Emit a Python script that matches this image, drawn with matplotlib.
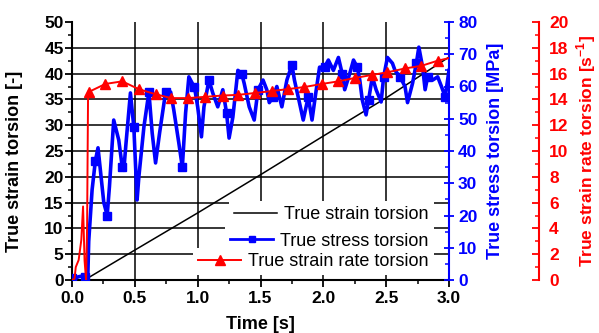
import matplotlib
matplotlib.use('Agg')
import matplotlib.pyplot as plt
from matplotlib.lines import Line2D
from matplotlib.ticker import MultipleLocator

plt.rcParams['font.family'] = ['Liberation Sans', 'DejaVu Sans']

# ---------------- data ----------------
t_strain = [0.1, 0.5, 1.0, 1.5, 2.0, 2.5, 3.0]
strain = [0.0, 5.8, 13.0, 20.4, 27.9, 35.3, 43.2]

t_stress = [0.00, 0.02, 0.05, 0.08, 0.10, 0.125, 0.133, 0.16, 0.186, 0.207, 0.226, 0.253,
            0.28, 0.298, 0.332, 0.372, 0.40, 0.412, 0.43, 0.465, 0.492, 0.518, 0.532, 0.572,
            0.612, 0.638, 0.665, 0.697, 0.745, 0.785, 0.81, 0.85, 0.878, 0.904, 0.93, 0.957,
            0.974, 1.0, 1.03, 1.05, 1.09, 1.12, 1.16, 1.2, 1.23, 1.25, 1.28, 1.32, 1.35, 1.37,
            1.41, 1.45, 1.48, 1.52, 1.55, 1.57, 1.6, 1.63, 1.67, 1.71, 1.75, 1.77, 1.81, 1.84,
            1.88, 1.91, 1.94, 1.97, 2.01, 2.04, 2.08, 2.12, 2.15, 2.17, 2.21, 2.24, 2.27, 2.29,
            2.31, 2.34, 2.36, 2.39, 2.42, 2.46, 2.48, 2.51, 2.55, 2.57, 2.61, 2.65, 2.67, 2.71,
            2.74, 2.76, 2.79, 2.81, 2.83, 2.87, 2.91, 2.94, 2.97, 3.0]
stress = [0.5, 0.3, 1.0, 1.2, 0.8, 0.0, 12, 28, 37, 41, 34, 24,
          20, 29, 49.6, 43.4, 35, 34, 42.5, 58, 47.4, 24.8, 32, 47.4,
          58.3, 45.6, 36.3, 45.6, 58.3, 58.3, 52.7, 42.5, 35, 51.8, 63, 61,
          60, 53.7, 44.4, 53.7, 62, 58, 53.7, 59, 51.8, 44, 50.5, 65, 64, 61,
          53.7, 49.6, 59, 62, 59, 55, 56.8, 60, 53.7, 62, 66.7, 62, 55, 49.6,
          56.8, 49.6, 58, 66, 66, 68.2, 65, 69, 64, 59, 64, 68.2, 66, 62,
          55.8, 51.2, 55.8, 63, 59, 55.2, 63, 69, 67.2, 65, 63, 60, 55, 61,
          67.2, 72.2, 66, 59, 63, 62, 63, 60, 56.8, 65]

t_rate = [0.0, 0.02, 0.03, 0.053, 0.074, 0.088, 0.10, 0.112, 0.12, 0.128,
          0.138, 0.266, 0.40, 0.53, 0.665, 0.79, 0.925, 1.06, 1.2, 1.32, 1.46, 1.59,
          1.72, 1.85, 1.99, 2.12, 2.25, 2.39, 2.51, 2.65, 2.78, 2.91, 3.0]
rate = [0.0, 0.1, 1.0, 1.55, 3.1, 5.7, 1.5, 0.0, 4.1, 14.6,
        14.6, 15.2, 15.4, 14.8, 14.4, 14.1, 14.1, 14.2, 14.3, 14.35, 14.5, 14.65,
        14.8, 14.96, 15.2, 15.4, 15.66, 15.9, 16.1, 16.4, 16.6, 17.0, 17.2]

labels = ['True strain torsion', 'True stress torsion', 'True strain rate torsion']

# ---------------- figure ----------------
fig = plt.figure(figsize=(5.99, 3.33), dpi=100)
ax = fig.add_axes([72 / 599, 53 / 333, 377 / 599, 258 / 333])
ax2 = ax.twinx()
ax3 = ax.twinx()
ax3.spines['right'].set_position(('axes', 1.24))

BLUE = '#0000ff'
RED = '#ff0000'
tick_font = dict(fontsize=12.5, fontweight='bold')
lab_font = dict(fontsize=13, fontweight='bold')

# grid (drawn manually, no line at top value)
for yv in range(5, 50, 5):
    ax.axhline(yv, color='black', lw=1.1, zorder=0.5)
for xv in [0.5, 1.0, 1.5, 2.0, 2.5]:
    ax.axvline(xv, color='black', lw=1.1, zorder=0.5)

ax.plot(t_strain, strain, color='black', lw=1.1, zorder=2)
ax2.plot(t_stress, stress, color=BLUE, lw=2.6, marker='s', markersize=5.5,
         markevery=4, zorder=2)
ax3.plot(t_rate, rate, color=RED, lw=1.4, marker='^', markersize=6.5,
         markevery=list(range(10, 32)), zorder=3)

ax.set_xlim(0, 3.0)
ax.set_ylim(0, 50)
ax2.set_ylim(0, 80)
ax3.set_ylim(0, 20)

# spines
for s in ['top', 'right']:
    ax.spines[s].set_visible(False)
for s in ['left', 'bottom']:
    ax.spines[s].set_linewidth(1.5)
for s in ['top', 'left', 'bottom']:
    ax2.spines[s].set_visible(False)
    ax3.spines[s].set_visible(False)
ax2.spines['right'].set_color(BLUE)
ax2.spines['right'].set_linewidth(1.5)
ax3.spines['right'].set_color(RED)
ax3.spines['right'].set_linewidth(1.5)

# ticks
ax.xaxis.set_major_locator(MultipleLocator(0.5))
ax.xaxis.set_minor_locator(MultipleLocator(0.25))
ax.yaxis.set_major_locator(MultipleLocator(5))
ax.yaxis.set_minor_locator(MultipleLocator(2.5))
ax2.yaxis.set_major_locator(MultipleLocator(10))
ax2.yaxis.set_minor_locator(MultipleLocator(5))
ax3.yaxis.set_major_locator(MultipleLocator(2))
ax3.yaxis.set_minor_locator(MultipleLocator(1))

ax.tick_params(axis='y', which='major', direction='out', length=5, width=1.3, pad=1)
ax.tick_params(axis='y', which='minor', direction='out', length=3, width=1.1)
ax.tick_params(axis='x', which='major', direction='out', length=5, width=1.3, pad=3)
ax.tick_params(axis='x', which='minor', direction='out', length=3, width=1.1)
ax2.tick_params(axis='y', which='major', direction='inout', length=7, width=1.3,
                color=BLUE, labelcolor=BLUE, pad=3)
ax2.tick_params(axis='y', which='minor', direction='in', length=3, width=1.1, color=BLUE)
ax3.tick_params(axis='y', which='major', direction='in', length=5, width=1.3,
                color=RED, labelcolor=RED, pad=7)
ax3.tick_params(axis='y', which='minor', direction='in', length=3, width=1.1, color=RED)

for a in (ax, ax2, ax3):
    for lab in a.get_xticklabels() + a.get_yticklabels():
        lab.set_fontsize(tick_font['fontsize'])
        lab.set_fontweight('bold')

ax.set_xticks([0, 0.5, 1.0, 1.5, 2.0, 2.5, 3.0])
ax.set_xticklabels(['0.0', '0.5', '1.0', '1.5', '2.0', '2.5', '3.0'], **tick_font)

ax.set_xlabel('Time [s]', **lab_font)
ax.xaxis.set_label_coords(0.5, -0.14)
ax.set_ylabel('True strain torsion [-]', **lab_font)
ax.yaxis.set_label_coords(-0.13, 0.46)
ax2.set_ylabel('True stress torsion [MPa]', color=BLUE, **lab_font)
ax2.yaxis.set_label_coords(1.10, 0.5)
ax3.set_ylabel(r'True strain rate torsion [s$^{\mathregular{-1}}$]', color=RED,
               fontsize=12.5, fontweight='bold')
ax3.yaxis.set_label_coords(1.333, 0.5)

# legend: one per row, right aligned, white boxes
handles = [Line2D([], [], color='black', lw=1.1),
           Line2D([], [], color=BLUE, lw=2.0, marker='s', markersize=5),
           Line2D([], [], color=RED, lw=1.4, marker='^', markersize=6.5)]
rows_y = [0.252, 0.151, 0.072]
for h, lab, yy in zip(handles, labels, rows_y):
    leg = ax3.legend([h], [lab], loc='center right', bbox_to_anchor=(0.96, yy),
                     bbox_transform=ax3.transAxes, fontsize=13, frameon=True,
                     facecolor='white', edgecolor='none', framealpha=1, fancybox=False,
                     borderpad=0.3, handlelength=2.35, handletextpad=0.4, borderaxespad=0)
    ax3.add_artist(leg)

fig.savefig('out.png', dpi=100)
